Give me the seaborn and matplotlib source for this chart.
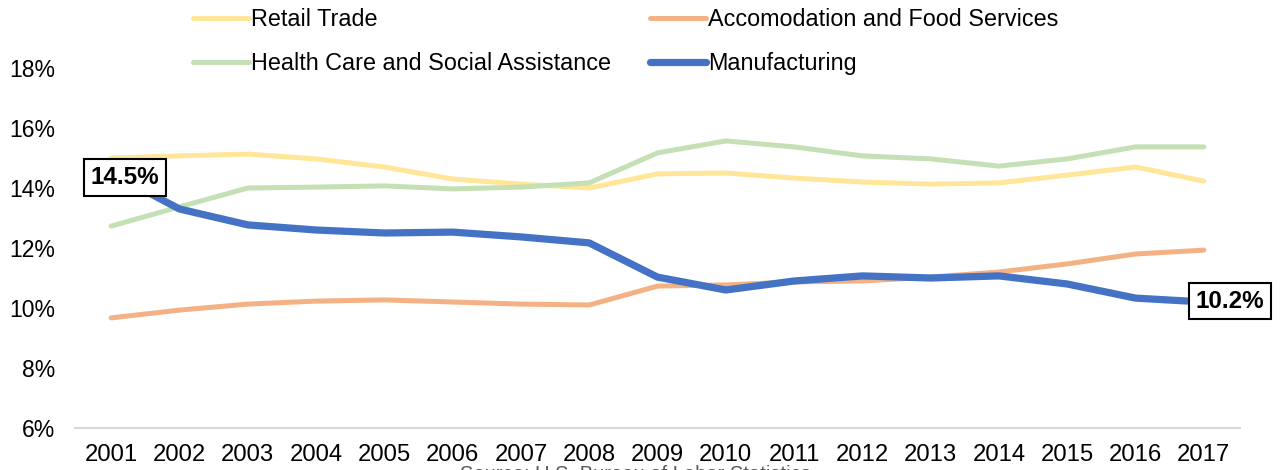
import matplotlib
matplotlib.use("Agg")
import matplotlib.pyplot as plt
import seaborn as sns
import pandas as pd
from matplotlib.ticker import FuncFormatter

years = list(range(2001, 2018))
retail = [15.0, 15.07, 15.13, 14.97, 14.7, 14.3, 14.13, 14.0, 14.47, 14.5, 14.33, 14.2, 14.13, 14.17, 14.43, 14.7, 14.23]
accom = [9.67, 9.93, 10.13, 10.23, 10.27, 10.2, 10.13, 10.1, 10.73, 10.77, 10.87, 10.9, 11.03, 11.2, 11.47, 11.8, 11.93]
health = [12.73, 13.37, 14.0, 14.03, 14.07, 13.97, 14.03, 14.17, 15.17, 15.57, 15.37, 15.07, 14.97, 14.73, 14.97, 15.37, 15.37]
manuf = [14.5, 13.3, 12.77, 12.6, 12.5, 12.53, 12.37, 12.17, 11.03, 10.6, 10.9, 11.07, 11.0, 11.07, 10.8, 10.33, 10.2]

names = ["Retail Trade", "Health Care and Social Assistance",
         "Accomodation and Food Services", "Manufacturing"]
series = [retail, health, accom, manuf]
colors = ["#FFE699", "#C5E0B4", "#F4B183", "#4472C4"]
widths = [3.6, 3.6, 3.6, 5.2]

sns.set_theme(style="white")
plt.rcParams["font.family"] = ["Liberation Sans", "DejaVu Sans"]
plt.rcParams["text.color"] = "black"

fig = plt.figure(figsize=(12.8, 4.7), dpi=100)
ax = fig.add_axes([75/1280, 42/470, (1240-75)/1280, (428-68)/470])

for name, vals, c, w in zip(names, series, colors, widths):
    df = pd.DataFrame({"year": years, "value": vals})
    sns.lineplot(data=df, x="year", y="value", color=c, linewidth=w, ax=ax,
                 label=name, solid_capstyle="round", solid_joinstyle="round")

ax.set_xlim(2000.47, 2017.53)
ax.set_ylim(6, 18)
ax.set_yticks([6, 8, 10, 12, 14, 16, 18])
ax.yaxis.set_major_formatter(FuncFormatter(lambda v, p: f"{v:.0f}%"))
ax.set_xticks(years)
ax.set_xticklabels([str(y) for y in years])
ax.tick_params(axis="both", labelsize=16.5, labelcolor="black", length=0)
ax.tick_params(axis="x", labelsize=17.2)
ax.tick_params(axis="y", pad=14.5)
ax.tick_params(axis="x", pad=11.5)
ax.set_xlabel("")
ax.set_ylabel("")
for s in ["top", "right", "left"]:
    ax.spines[s].set_visible(False)
ax.spines["bottom"].set_color("#D9D9D9")
ax.spines["bottom"].set_linewidth(1.5)
ax.grid(False)

bbox = dict(boxstyle="square,pad=0.28", fc="white", ec="black", lw=1.5)
ax.annotate(f"{manuf[0]:.1f}%", xy=(years[0], manuf[0]), xytext=(9.7, -3.2),
            textcoords="offset points", ha="center", va="center",
            fontsize=17.5, fontweight="bold", color="black", bbox=bbox, zorder=10)
ax.annotate(f"{manuf[-1]:.1f}%", xy=(years[-1], manuf[-1]), xytext=(19, 0.7),
            textcoords="offset points", ha="center", va="center",
            fontsize=17.5, fontweight="bold", color="black", bbox=bbox, zorder=10)

h, l = ax.get_legend_handles_labels()
ax.get_legend().remove()
fig.legend(h, l, ncol=2, loc="upper left", bbox_to_anchor=(193/1280, 0.982),
           frameon=False, fontsize=16.8, handlelength=2.4, handletextpad=0.1,
           columnspacing=1.66, labelspacing=0.9, borderpad=0, borderaxespad=0,
           labelcolor="black")

fig.text(635/1280, 5/470, "Source: U.S. Bureau of Labor Statistics",
         ha="center", va="top", fontsize=14.5, color="#595959")

fig.savefig("out.png", dpi=100)
